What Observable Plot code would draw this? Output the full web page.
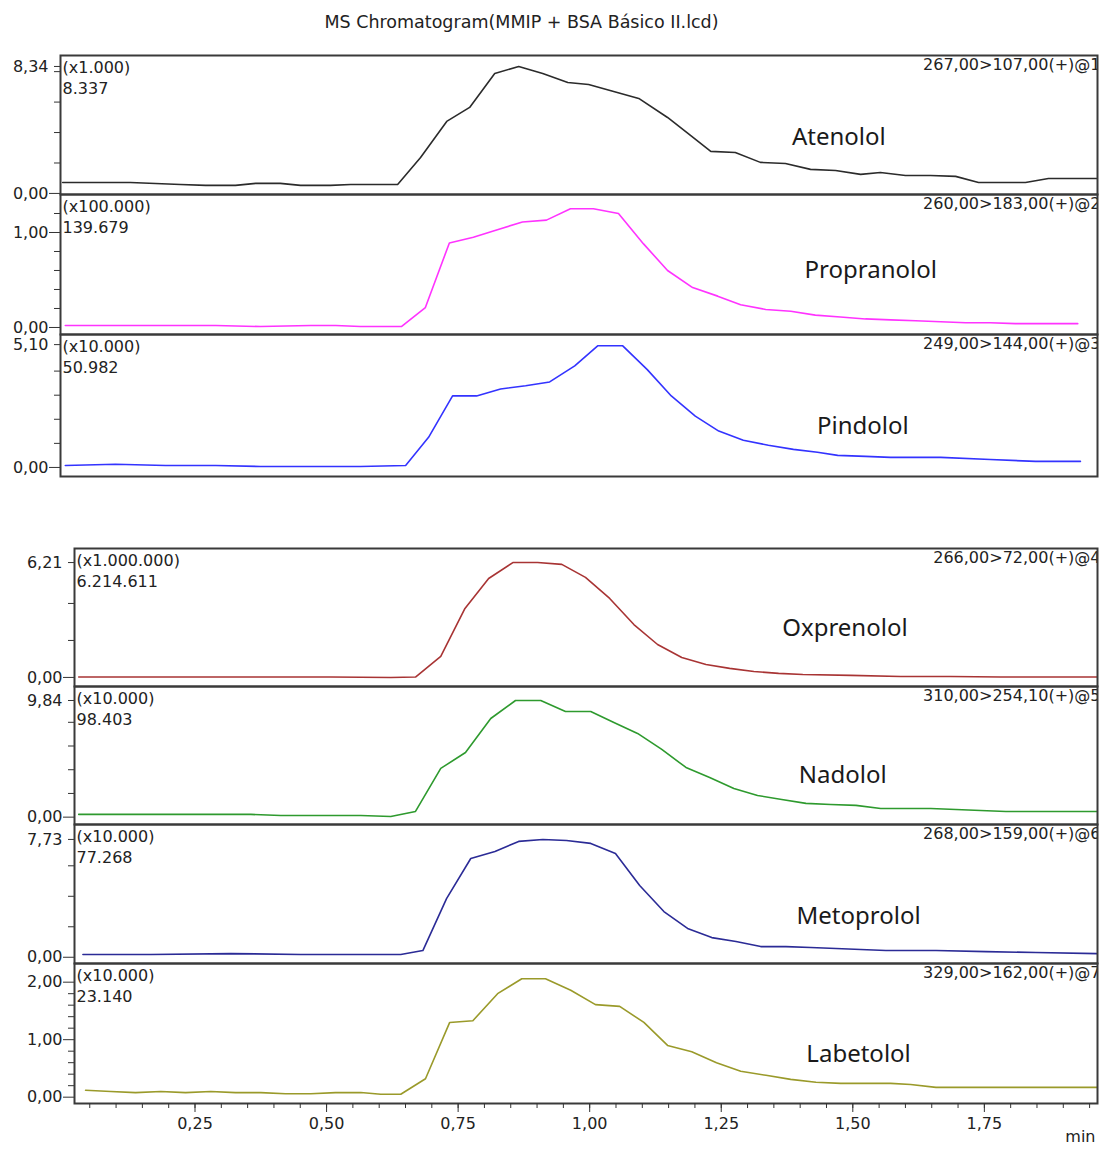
<!DOCTYPE html>
<html><head><meta charset="utf-8">
<script src="https://cdn.jsdelivr.net/npm/d3@7"></script>
<script src="https://cdn.jsdelivr.net/npm/@observablehq/plot@0.6"></script>
<style>
body{margin:0;background:#fff;}
#root{position:relative;width:1099px;height:1149px;overflow:hidden;background:#fff;}
#title{position:absolute;top:12px;left:0;width:1043px;text-align:center;font:17.5px "DejaVu Sans";line-height:20px;color:#222;}
.panel{position:absolute;left:0;}
</style></head>
<body><div id="root"><div id="title">MS Chromatogram(MMIP + BSA Básico II.lcd)</div></div>
<script>
// ---- data ----
const compounds = ["Atenolol","Propranolol","Pindolol","Oxprenolol","Nadolol","Metoprolol","Labetolol"];
const multipliers = ["(x1.000)","(x100.000)","(x10.000)","(x1.000.000)","(x10.000)","(x10.000)","(x10.000)"];
const maxIntensities = ["8.337","139.679","50.982","6.214.611","98.403","77.268","23.140"];
const transitions = ["267,00>107,00(+)@1","260,00>183,00(+)@2","249,00>144,00(+)@3","266,00>72,00(+)@4","310,00>254,10(+)@5","268,00>159,00(+)@6","329,00>162,00(+)@7"];
const yLabelTicks = [[0,8.34],[0,1],[0,5.10],[0,6.21],[0,9.84],[0,7.73],[0,1,2]];
const xTickValues = [0.25,0.50,0.75,1.00,1.25,1.50,1.75];
const labelTime = [1.480,1.540,1.525,1.485,1.481,1.511,1.511];
const labelValue = [3.68,0.60,1.71,2.65,3.52,2.67,0.74];

const atenololTime = [0.025,0.152,0.246,0.293,0.349,0.387,0.433,0.471,0.527,0.565,0.653,0.696,0.745,0.788,0.835,0.880,0.925,0.972,1.011,1.058,1.105,1.159,1.202,1.240,1.286,1.333,1.380,1.427,1.474,1.521,1.558,1.605,1.652,1.699,1.742,1.783,1.830,1.873,1.965];
const atenololValue = [0.72,0.72,0.59,0.53,0.53,0.66,0.66,0.53,0.53,0.59,0.59,2.36,4.73,5.65,7.88,8.34,7.88,7.29,7.16,6.70,6.24,4.99,3.81,2.76,2.69,2.04,1.97,1.58,1.51,1.25,1.38,1.18,1.18,1.12,0.72,0.72,0.72,0.98,0.98];
const propranololTime = [0.030,0.124,0.218,0.312,0.396,0.490,0.537,0.583,0.660,0.705,0.750,0.795,0.840,0.887,0.932,0.977,1.020,1.067,1.114,1.159,1.206,1.253,1.296,1.343,1.390,1.436,1.483,1.530,1.577,1.624,1.671,1.718,1.764,1.811,1.858,1.928];
const propranololValue = [0.02,0.02,0.02,0.02,0.01,0.02,0.02,0.01,0.01,0.21,0.89,0.95,1.03,1.11,1.13,1.25,1.25,1.20,0.88,0.60,0.42,0.33,0.24,0.19,0.17,0.13,0.11,0.09,0.08,0.07,0.06,0.05,0.05,0.04,0.04,0.04];
const pindololTime = [0.030,0.124,0.218,0.312,0.396,0.490,0.583,0.668,0.711,0.756,0.801,0.846,0.893,0.938,0.985,1.028,1.075,1.121,1.166,1.211,1.255,1.301,1.348,1.395,1.440,1.478,1.530,1.577,1.671,1.764,1.849,1.933];
const pindololValue = [0.08,0.13,0.08,0.08,0.04,0.04,0.04,0.08,1.25,2.97,2.97,3.26,3.39,3.55,4.22,5.05,5.05,4.06,2.97,2.13,1.51,1.13,0.92,0.75,0.63,0.50,0.46,0.42,0.42,0.33,0.25,0.25];
const oxprenololTime = [0.029,0.128,0.223,0.318,0.413,0.508,0.622,0.669,0.717,0.763,0.808,0.854,0.901,0.947,0.992,1.038,1.084,1.129,1.175,1.221,1.266,1.312,1.359,1.405,1.496,1.591,1.686,1.781,1.965];
const oxprenololValue = [0.02,0.02,0.02,0.02,0.02,0.02,0.00,0.02,1.14,3.73,5.35,6.21,6.21,6.11,5.41,4.27,2.86,1.78,1.08,0.70,0.49,0.32,0.22,0.16,0.11,0.05,0.05,0.02,0.02];
const nadololTime = [0.029,0.166,0.356,0.413,0.508,0.565,0.622,0.669,0.717,0.764,0.812,0.859,0.907,0.954,1.002,1.046,1.091,1.137,1.183,1.228,1.274,1.319,1.365,1.411,1.458,1.506,1.553,1.601,1.648,1.696,1.743,1.791,1.965];
const nadololValue = [0.23,0.23,0.23,0.14,0.14,0.14,0.06,0.48,4.11,5.45,8.32,9.84,9.84,8.91,8.91,7.99,7.06,5.71,4.19,3.35,2.42,1.83,1.49,1.16,1.07,0.99,0.73,0.73,0.73,0.65,0.56,0.48,0.48];
const metoprololTime = [0.037,0.166,0.318,0.451,0.546,0.641,0.683,0.728,0.774,0.820,0.865,0.911,0.956,1.002,1.049,1.095,1.141,1.186,1.232,1.278,1.325,1.373,1.420,1.468,1.515,1.563,1.658,1.753,1.848,1.965];
const metoprololValue = [0.18,0.18,0.24,0.18,0.18,0.18,0.44,3.85,6.48,6.94,7.60,7.73,7.66,7.47,6.81,4.71,3.00,1.89,1.29,1.03,0.70,0.70,0.64,0.57,0.51,0.44,0.44,0.37,0.31,0.24];
const labetalolTime = [0.042,0.090,0.137,0.185,0.232,0.280,0.327,0.375,0.422,0.470,0.517,0.565,0.603,0.641,0.688,0.734,0.778,0.825,0.871,0.916,0.964,1.011,1.057,1.103,1.148,1.194,1.241,1.287,1.335,1.382,1.430,1.477,1.525,1.572,1.610,1.658,1.705,1.753,1.800,1.965];
const labetalolValue = [0.12,0.10,0.08,0.10,0.08,0.10,0.08,0.08,0.06,0.06,0.08,0.08,0.05,0.05,0.32,1.30,1.33,1.80,2.06,2.06,1.86,1.61,1.58,1.30,0.90,0.79,0.60,0.45,0.38,0.31,0.26,0.24,0.24,0.24,0.22,0.17,0.17,0.17,0.17,0.17];

const times = [atenololTime,propranololTime,pindololTime,oxprenololTime,nadololTime,metoprololTime,labetalolTime];
const values = [atenololValue,propranololValue,pindololValue,oxprenololValue,nadololValue,metoprololValue,labetalolValue];

// ---- layout & style ----
const colors = ["#2b2b2b","#ff33ff","#3333ff","#a83434","#2e9a2e","#2b2b96","#9a9a2a"];
const layout = [
  {top:55,  height:139, left:60, yDomain:[-0.07, 9.06],  minor:[2,4,6,8]},
  {top:194, height:140, left:60, yDomain:[-0.074, 1.40], minor:[0.2,0.4,0.6,0.8,1.2]},
  {top:334, height:142, left:60, yDomain:[-0.376, 5.52], minor:[1,2,3,4]},
  {top:548, height:138, left:74, yDomain:[-0.49, 6.97],  minor:[2,4]},
  {top:686, height:138, left:74, yDomain:[-0.62, 11.02], minor:[2,4,6,8]},
  {top:824, height:139, left:74, yDomain:[-0.41, 8.71],  minor:[2,4,6]},
  {top:963, height:140, left:74, yDomain:[-0.11, 2.325], minor:[0.2,0.4,0.6,0.8,1.2,1.4,1.6,1.8]}
];
const xDomain = [0.021, 1.965];
const fmt = d => d.toFixed(2).replace(".", ",");
const root = document.getElementById("root");

compounds.forEach((name, i) => {
  const L = layout[i];
  const last = i === compounds.length - 1;
  const data = times[i].map((t, k) => ({t, v: values[i][k]}));
  const majors = yLabelTicks[i];
  const topTick = majors[majors.length - 1];
  const hasTopLabel = !Number.isInteger(topTick);
  const marks = [
    Plot.axisY({ticks: L.minor, tickSize: 6, tickFormat: () => "", label: null, stroke: "#333"}),
    Plot.axisY({ticks: hasTopLabel ? majors.slice(0, -1) : majors, tickSize: 11, tickPadding: 1, tickFormat: fmt, label: null, stroke: "#333"}),
  ];
  if (hasTopLabel) marks.push(Plot.axisY({ticks: [topTick], tickSize: 6, tickPadding: 6, tickFormat: fmt, label: null, stroke: "#333"}));
  marks.push(
    Plot.line(data, {x: "t", y: "v", stroke: colors[i], strokeWidth: 1.6, clip: true}),
    Plot.text([multipliers[i] + "\n" + maxIntensities[i]], {text: d => d, frameAnchor: "top-left", textAnchor: "start", lineAnchor: "top", dx: 2, dy: 3, lineHeight: 1.28, fill: "#222"}),
    Plot.text([transitions[i]], {text: d => d, frameAnchor: "top-right", textAnchor: "end", lineAnchor: "top", dx: 3, dy: 3, fill: "#222", clip: true}),
    Plot.text([{t: labelTime[i], v: labelValue[i], name}], {x: "t", y: "v", text: "name", fontFamily: "Noto Sans", fontSize: 24, fill: "#1a1a1a"}),
    Plot.frame({stroke: "#3a3a3a", strokeWidth: 2})
  );
  if (last) {
    marks.push(
      Plot.axisX({ticks: d3.range(0.05, 1.96, 0.05), tickSize: 5, tickFormat: () => "", label: null, stroke: "#333"}),
      Plot.axisX({ticks: xTickValues, tickSize: 9, tickPadding: 5, tickFormat: fmt, label: null, stroke: "#333"}),
      Plot.text(["min"], {text: d => d, frameAnchor: "bottom-right", textAnchor: "end", dx: -2, dy: 38, fill: "#222"})
    );
  }
  const chart = Plot.plot({
    width: 1099,
    height: L.height + (last ? 46 : 0),
    marginLeft: L.left,
    marginRight: 2,
    marginTop: 0,
    marginBottom: last ? 46 : 0,
    style: {fontFamily: "DejaVu Sans", fontSize: "16px", color: "#222", background: "transparent", overflow: "visible"},
    x: last ? {domain: xDomain} : {domain: xDomain, axis: null},
    y: {domain: L.yDomain},
    marks
  });
  chart.classList.add("panel");
  chart.style.top = L.top + "px";
  root.appendChild(chart);
});
</script>
</body></html>
